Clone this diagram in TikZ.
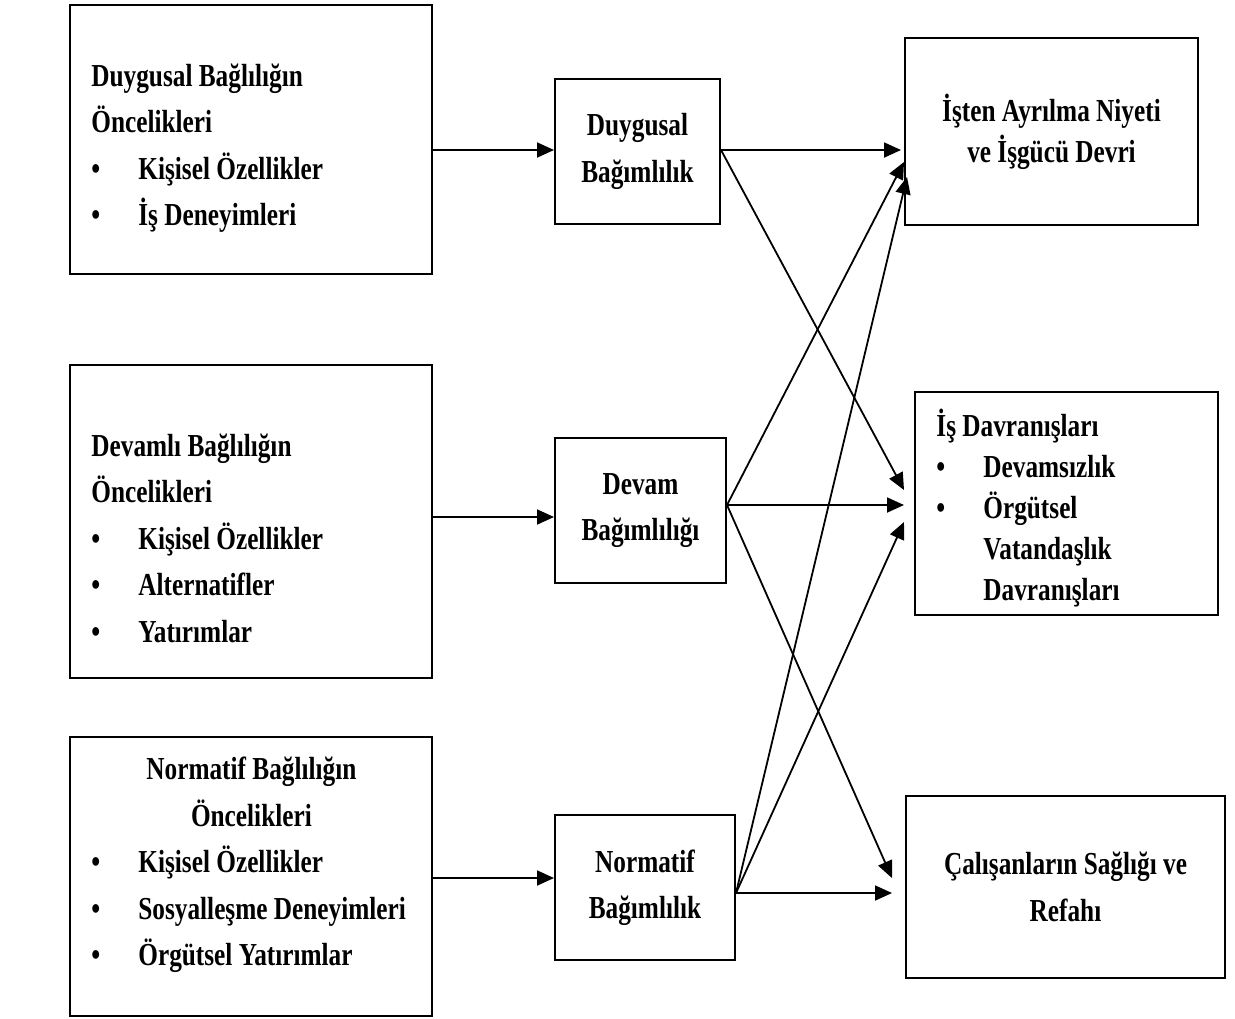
\documentclass[tikz,border=0pt]{standalone}
\usepackage{fontspec}
\setmainfont{Liberation Serif}[FakeStretch=0.79]
\usepackage{tikz}
\usetikzlibrary{calc}
\usetikzlibrary{arrows.meta}
\newcommand{\bulletwidth}{23.5pt}
\newcommand{\itm}[1]{\makebox[\bulletwidth][l]{\textbullet}#1}
\tikzset{
    common/.style={draw, rectangle, line width=1pt, inner sep=0pt, align=center,
        font=\bfseries\fontsize{16pt}{23.25pt}\selectfont},
    srcbox/.style={common, minimum width=181pt},
    midbox/.style={common, minimum height=72.5pt},
    outbox/.style={common},
    txt/.style={anchor=west, align=left, inner sep=0pt,
        font=\bfseries\fontsize{16pt}{23.25pt}\selectfont},
    conn/.style={-{Triangle[length=8.5pt,width=7.5pt]}, line width=0.9pt}
}

\begin{document}
\begin{tikzpicture}[x=0.5pt, y=-0.5pt]
    \useasboundingbox (0,0) rectangle (1235,1018);

    % antecedents
    \node[srcbox, minimum height=134.5pt] (l1) at (251,139.5) {};
    \node[srcbox, minimum height=156.5pt] (l2) at (251,521.5) {};
    \node[srcbox, minimum height=139.5pt] (l3) at (251,876) {};

    \node[txt] (l1t) at (91,148) {Duygusal Bağlılığın\\Öncelikleri\\
        \itm{Kişisel Özellikler}\\\itm{İş Deneyimleri}};
    \node[txt] (l2t) at (91,538) {Devamlı Bağlılığın\\Öncelikleri\\
        \itm{Kişisel Özellikler}\\\itm{Alternatifler}\\\itm{Yatırımlar}};
    \node[txt] (l3t) at (91,865) {%
        \makebox[160pt]{Normatif Bağlılığın}\\\makebox[160pt]{Öncelikleri}\\
        \itm{Kişisel Özellikler}\\\itm{Sosyalleşme Deneyimleri}\\\itm{Örgütsel Yatırımlar}};

    % commitment types
    \node[midbox, minimum width=82.5pt] (m1) at (637.5,151.5) {Duygusal\\Bağımlılık};
    \node[midbox, minimum width=85.5pt] (m2) at (640.5,510.5) {Devam\\Bağımlılığı};
    \node[midbox, minimum width=90pt] (m3) at (645,887.5) {Normatif\\Bağımlılık};

    % outcomes
    \node[outbox, minimum width=146.5pt, minimum height=93.5pt,
        font=\bfseries\fontsize{16pt}{20.5pt}\selectfont]
        (r1) at (1051.5,131.5) {İşten Ayrılma Niyeti\\ve İşgücü Devri};
    \node[outbox, minimum width=151.5pt, minimum height=111.5pt] (r2) at (1066.5,503.5) {};
    \node[txt, font=\bfseries\fontsize{16pt}{20.5pt}\selectfont] (r2t) at (936,508)
        {İş Davranışları\\\itm{Devamsızlık}\\\itm{Örgütsel}\\
        \hspace*{\bulletwidth}Vatandaşlık\\\hspace*{\bulletwidth}Davranışları};
    \node[outbox, minimum width=159.5pt, minimum height=91pt] (r3) at (1065.5,887)
        {Çalışanların Sağlığı ve\\Refahı};

    % arrow ends
    \coordinate (m1in) at ($(m1.west)+(0,-1.5)$);
    \coordinate (m2in) at ($(m2.west)+(0,6.5)$);
    \coordinate (m3in) at ($(m3.west)+(0,-9.5)$);
    \coordinate (m1out) at ($(m1.east)+(0,-1.5)$);
    \coordinate (m2out) at ($(m2.east)+(0,-5.5)$);
    \coordinate (m3out) at ($(m3.east)+(0,5.5)$);
    \coordinate (r1a) at ($(r1.west)+(-3,18.5)$);
    \coordinate (r1b) at ($(r1.west)+(0,30.5)$);
    \coordinate (r1c) at ($(r1.west)+(3,45.5)$);
    \coordinate (r2a) at ($(r2.west)+(-10,-13.5)$);
    \coordinate (r2b) at ($(r2.west)+(-10,1.5)$);
    \coordinate (r2c) at ($(r2.west)+(-10,18.5)$);
    \coordinate (r3a) at ($(r3.west)+(-13,-9)$);
    \coordinate (r3b) at ($(r3.west)+(-13,6)$);

    \draw[conn] (l1.east |- m1in) -- (m1in);
    \draw[conn] (l2.east |- m2in) -- (m2in);
    \draw[conn] (l3.east |- m3in) -- (m3in);

    \draw[conn] (m1out) -- (r1a);
    \draw[conn] (m1out) -- (r2a);
    \draw[conn] (m2out) -- (r1b);
    \draw[conn] (m2out) -- (r2b);
    \draw[conn] (m2out) -- (r3a);
    \draw[conn] (m3out) -- (r1c);
    \draw[conn] (m3out) -- (r2c);
    \draw[conn] (m3out) -- (r3b);
\end{tikzpicture}
\end{document}
